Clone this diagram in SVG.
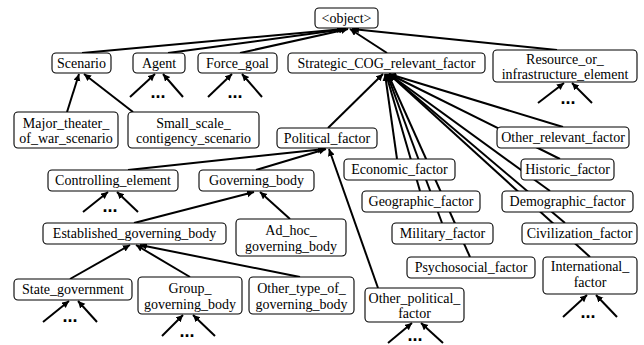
<svg xmlns="http://www.w3.org/2000/svg" width="644" height="345" viewBox="0 0 644 345">
<style>
.n rect{fill:#fff;stroke:#000;stroke-width:1.1}
.n text{font-size:14px;fill:#000;text-anchor:middle}
#edges line{stroke:#000;stroke-width:2;marker-end:url(#ah)}
.dots text{font-weight:bold;font-size:18px;text-anchor:middle;fill:#000}
</style>
<defs>
<marker id="ah" markerUnits="userSpaceOnUse" markerWidth="8" markerHeight="8" refX="7" refY="3.5" orient="auto">
<path d="M0,0 L7,3.5 L0,7 z" fill="#000"/>
</marker>
</defs>
<rect width="644" height="345" fill="#fff"/>
<g id="edges">
<line x1="82" y1="53" x2="344" y2="29"/>
<line x1="168" y1="53" x2="346" y2="29"/>
<line x1="240" y1="53" x2="348" y2="29"/>
<line x1="387" y1="53" x2="350" y2="29"/>
<line x1="557" y1="50" x2="352" y2="29"/>
<line x1="67" y1="112" x2="79" y2="74"/>
<line x1="133" y1="112" x2="84" y2="74"/>
<line x1="130" y1="97" x2="155" y2="74"/>
<line x1="183" y1="97" x2="163" y2="74"/>
<line x1="208" y1="97" x2="232" y2="74"/>
<line x1="262" y1="97" x2="242" y2="74"/>
<line x1="538" y1="103" x2="564" y2="83"/>
<line x1="592" y1="103" x2="572" y2="83"/>
<line x1="328" y1="128" x2="383" y2="74"/>
<line x1="397" y1="159" x2="385" y2="74"/>
<line x1="420" y1="191" x2="386" y2="74"/>
<line x1="442" y1="223" x2="387" y2="74"/>
<line x1="470" y1="257" x2="388" y2="74"/>
<line x1="563" y1="127" x2="389" y2="74"/>
<line x1="560" y1="159" x2="389" y2="74"/>
<line x1="550" y1="191" x2="389" y2="74"/>
<line x1="565" y1="223" x2="389" y2="74"/>
<line x1="590" y1="257" x2="389" y2="74"/>
<line x1="128" y1="170" x2="325" y2="149"/>
<line x1="256" y1="170" x2="326" y2="149"/>
<line x1="378" y1="288" x2="329" y2="149"/>
<line x1="83" y1="212" x2="108" y2="192"/>
<line x1="138" y1="212" x2="117" y2="192"/>
<line x1="134" y1="223" x2="254" y2="192"/>
<line x1="290" y1="219" x2="260" y2="192"/>
<line x1="70" y1="279" x2="130" y2="245"/>
<line x1="190" y1="277" x2="136" y2="245"/>
<line x1="300" y1="277" x2="140" y2="245"/>
<line x1="43" y1="322" x2="69" y2="301"/>
<line x1="97" y1="322" x2="78" y2="301"/>
<line x1="162" y1="336" x2="183" y2="315"/>
<line x1="215" y1="336" x2="193" y2="315"/>
<line x1="388" y1="343" x2="412" y2="323"/>
<line x1="443" y1="343" x2="421" y2="323"/>
<line x1="563" y1="317" x2="587" y2="295"/>
<line x1="617" y1="317" x2="596" y2="295"/>
</g>
<g class="dots" font-family="'Liberation Sans', Arial, sans-serif">
<text x="158" y="98">...</text>
<text x="235" y="98">...</text>
<text x="568" y="104">...</text>
<text x="110" y="212">...</text>
<text x="70" y="322">...</text>
<text x="187" y="337">...</text>
<text x="415" y="341">...</text>
<text x="588" y="318">...</text>
</g>
<g id="nodes" font-family="'Liberation Serif', 'Times New Roman', serif">
<g id="object" class="n"><rect x="315" y="8" width="63" height="20" rx="4"/><text x="346.5" y="23">&lt;object&gt;</text></g>
<g id="scenario" class="n"><rect x="52" y="53" width="59" height="20" rx="4"/><text x="81.5" y="68">Scenario</text></g>
<g id="agent" class="n"><rect x="133" y="53" width="52" height="20" rx="4"/><text x="159" y="68">Agent</text></g>
<g id="force_goal" class="n"><rect x="198" y="53" width="79" height="20" rx="4"/><text x="237.5" y="68">Force_goal</text></g>
<g id="strategic" class="n"><rect x="288" y="53" width="197" height="20" rx="4"/><text x="386.5" y="68">Strategic_COG_relevant_factor</text></g>
<g id="resource" class="n"><rect x="493" y="50" width="144" height="32" rx="4"/><text x="565" y="64">Resource_or_</text><text x="565" y="79">infrastructure_element</text></g>
<g id="major" class="n"><rect x="14" y="112" width="104" height="36" rx="4"/><text x="66" y="128">Major_theater_</text><text x="66" y="143">of_war_scenario</text></g>
<g id="small" class="n"><rect x="128" y="112" width="131" height="36" rx="4"/><text x="193.5" y="128">Small_scale_</text><text x="193.5" y="143">contigency_scenario</text></g>
<g id="political" class="n"><rect x="277" y="128" width="100" height="20" rx="4"/><text x="327" y="143">Political_factor</text></g>
<g id="other_relevant" class="n"><rect x="497" y="127" width="132" height="21" rx="4"/><text x="563" y="142">Other_relevant_factor</text></g>
<g id="economic" class="n"><rect x="344" y="159" width="111" height="21" rx="4"/><text x="399.5" y="174">Economic_factor</text></g>
<g id="historic" class="n"><rect x="521" y="159" width="93" height="21" rx="4"/><text x="567.5" y="174">Historic_factor</text></g>
<g id="controlling" class="n"><rect x="48" y="170" width="130" height="21" rx="4"/><text x="113" y="185">Controlling_element</text></g>
<g id="governing" class="n"><rect x="199" y="170" width="115" height="21" rx="4"/><text x="256.5" y="185">Governing_body</text></g>
<g id="geographic" class="n"><rect x="362" y="191" width="118" height="21" rx="4"/><text x="421" y="206">Geographic_factor</text></g>
<g id="demographic" class="n"><rect x="502" y="191" width="131" height="21" rx="4"/><text x="567.5" y="206">Demographic_factor</text></g>
<g id="ad_hoc" class="n"><rect x="236" y="219" width="110" height="37" rx="4"/><text x="291" y="235">Ad_hoc_</text><text x="291" y="251">governing_body</text></g>
<g id="established" class="n"><rect x="43" y="223" width="183" height="21" rx="4"/><text x="134.5" y="238">Established_governing_body</text></g>
<g id="military" class="n"><rect x="392" y="223" width="101" height="21" rx="4"/><text x="442.5" y="238">Military_factor</text></g>
<g id="civilization" class="n"><rect x="522" y="223" width="115" height="21" rx="4"/><text x="579.5" y="238">Civilization_factor</text></g>
<g id="psychosocial" class="n"><rect x="407" y="257" width="128" height="21" rx="4"/><text x="471" y="272">Psychosocial_factor</text></g>
<g id="international" class="n"><rect x="543" y="257" width="94" height="37" rx="4"/><text x="590" y="271">International_</text><text x="590" y="287">factor</text></g>
<g id="state" class="n"><rect x="14" y="279" width="118" height="21" rx="4"/><text x="73" y="294">State_government</text></g>
<g id="group" class="n"><rect x="138" y="277" width="104" height="37" rx="4"/><text x="190" y="293">Group_</text><text x="190" y="309">governing_body</text></g>
<g id="other_type" class="n"><rect x="249" y="277" width="105" height="37" rx="4"/><text x="301.5" y="293">Other_type_of_</text><text x="301.5" y="309">governing_body</text></g>
<g id="other_political" class="n"><rect x="365" y="288" width="99" height="34" rx="4"/><text x="414.5" y="303">Other_political_</text><text x="414.5" y="318">factor</text></g>
</g>
</svg>
